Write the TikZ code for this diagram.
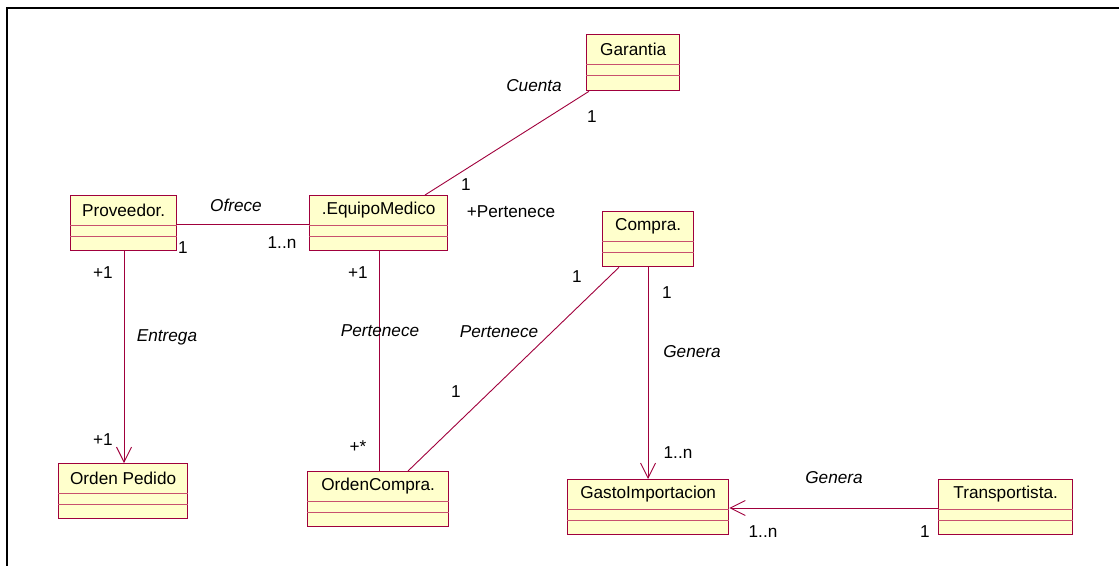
\documentclass[tikz,border=0pt]{standalone}
\usepackage{fontspec}
\setmainfont{Liberation Sans}
\usetikzlibrary{arrows.meta,calc}
\definecolor{umlline}{RGB}{160,0,60}
\definecolor{umlsep}{RGB}{200,80,110}
\definecolor{umlfill}{RGB}{255,255,204}
\tikzset{
  clsbox/.style={draw=umlline, fill=umlfill, line width=1.3pt, inner sep=0pt},
  clsname/.style={inner sep=0pt, font=\fontsize{17.2}{20}\selectfont},
  lbl/.style={inner sep=0pt, font=\fontsize{17.2}{20}\selectfont},
  role/.style={lbl, font=\fontsize{17.2}{20}\selectfont\itshape},
  assoc/.style={draw=umlline, line width=0.9pt},
  nav/.style={assoc, -{Straight Barb[length=15pt,width=15pt,line width=0.9pt]}},
  sepline/.style={draw=umlsep, line width=1pt},
}
% \umlclass{id}{x1}{y1}{x2}{y2}{title}: class box with name band and two empty compartments
\newcommand{\umlclass}[6]{%
  \node[clsbox, minimum width={(#4-#2)*1pt}, minimum height={(#5-#3)*1pt}, anchor=north west] (#1) at (#2,#3) {};
  \node[clsname] (#1-t) at ($(#1.north)+(0,15)$) {#6};
  \draw[sepline] ($(#1.north west)+(0,30)$) -- ($(#1.north east)+(0,30)$);
  \draw[sepline] ($(#1.north west)+(0,41)$) -- ($(#1.north east)+(0,41)$);
}
\begin{document}
\begin{tikzpicture}[x=1pt,y=-1pt]
\useasboundingbox (0,0) rectangle (1119,566);
% outer frame (top and left edges)
\draw[line width=2pt] (1119,8) -- (7,8) -- (7,566);

% classes
\umlclass{garantia}{586}{34}{679}{90}{Garantia}
\umlclass{proveedor}{70}{195}{176}{250}{Proveedor.}
\umlclass{equipo}{309}{195}{447}{250}{.EquipoMedico}
\umlclass{compra}{602}{211}{693}{266}{Compra.}
\umlclass{ordenpedido}{58}{463}{187}{518}{Orden Pedido}
\umlclass{ordencompra}{307}{471}{448}{526}{OrdenCompra.}
\umlclass{gasto}{567}{479}{728}{534}{GastoImportacion}
\umlclass{transp}{938}{479}{1072}{534}{Transportista.}

% associations
\draw[assoc] ($(garantia.south west)+(3,0)$) -- ($(equipo.north west)+(116,0)$);
\draw[assoc] ($(proveedor.north east)+(0,29)$) -- ($(equipo.north west)+(0,29)$);
\draw[nav] ($(proveedor.south west)+(54,0)$) -- ($(ordenpedido.north west)+(66,0)$);
\draw[assoc] ($(equipo.south west)+(70,0)$) -- ($(ordencompra.north west)+(72,0)$);
\draw[assoc] ($(compra.south west)+(17,0)$) -- ($(ordencompra.north west)+(101,0)$);
\draw[nav] ($(compra.south west)+(46,0)$) -- ($(gasto.north west)+(81,0)$);
\draw[nav] ($(transp.north west)+(0,29)$) -- ($(gasto.north east)+(0,29)$);

% labels
\node[role] (l-cuenta) at (534,86) {Cuenta};
\node[lbl] (m-g1) at (592,117) {1};
\node[lbl] (m-e1) at (466,185) {1};
\node[lbl] (r-pert) at (511,212) {+Pertenece};
\node[role] (l-ofrece) at (236,205) {Ofrece};
\node[lbl] (m-p1) at (183,248) {1};
\node[lbl] (m-e1n) at (282,243) {1..n};
\node[lbl] (m-pp1) at (103,273) {+1};
\node[role] (l-entrega) at (167,337) {Entrega};
\node[lbl] (m-op1) at (103,440) {+1};
\node[lbl] (m-ep1) at (358,273) {+1};
\node[role] (l-pert1) at (380,331) {Pertenece};
\node[lbl] (m-ocs) at (358,447) {+*};
\node[lbl] (m-c1) at (577,277) {1};
\node[role] (l-pert2) at (499,332) {Pertenece};
\node[lbl] (m-oc1) at (456,392) {1};
\node[lbl] (m-c1b) at (667,293) {1};
\node[role] (l-genera1) at (692,352) {Genera};
\node[lbl] (m-g1n) at (678,453) {1..n};
\node[role] (l-genera2) at (834,478) {Genera};
\node[lbl] (m-g2n) at (763,532) {1..n};
\node[lbl] (m-t1) at (925,532) {1};
\end{tikzpicture}
\end{document}
